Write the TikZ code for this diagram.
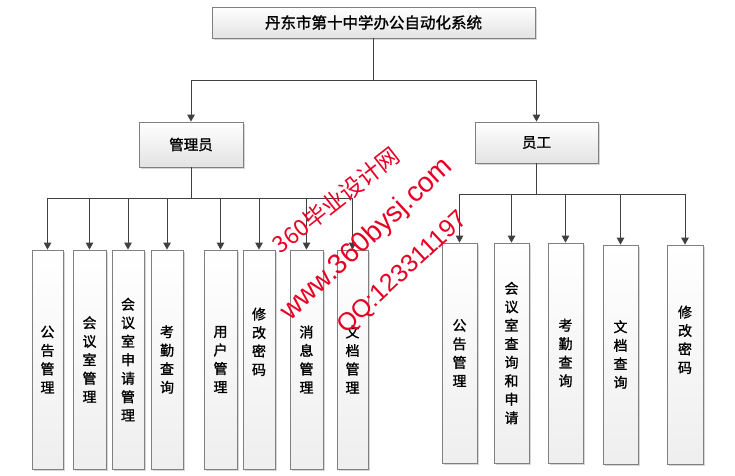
\documentclass[tikz,border=0pt]{standalone}
\usepackage{fontspec}
\newfontfamily\cjk[FakeBold=1.3]{Noto Sans CJK SC}
\newfontfamily\cjkw{Noto Sans CJK SC}
\newfontfamily\wmfont{Liberation Sans}
\usetikzlibrary{arrows.meta,shadows}
\definecolor{edge}{RGB}{128,128,128}
\definecolor{wire}{RGB}{64,64,64}
\definecolor{wmred}{RGB}{232,0,36}
\begin{document}
\begin{tikzpicture}[x=1pt,y=-1pt,
  boxbase/.style={draw=edge, line width=0.8pt, inner sep=0pt,
    drop shadow={shadow xshift=1.5pt, shadow yshift=-1.5pt, fill=gray!45, opacity=0.7}},
  headbox/.style={boxbase, top color=white, bottom color=gray!22,
    font=\cjk\fontsize{14.5}{16}\selectfont},
  leafbox/.style={boxbase, top color=white, bottom color=gray!13, minimum width=32pt,
    align=center, font=\cjk\fontsize{14}{18.5}\selectfont},
  conn/.style={draw=wire, line width=1pt},
  arr/.style={conn, -{Triangle[width=7.5pt,length=7pt]}},
  wm/.style={text=wmred, inner sep=0pt}
]
\useasboundingbox (0,0) rectangle (735,475);

% top
\node[headbox, minimum width=323pt, minimum height=31pt, font=\cjk\fontsize{15.5}{17}\selectfont] (root) at (373.5,22.5) {丹东市第十中学办公自动化系统};
\node[headbox, minimum width=104pt, minimum height=45pt] (adm) at (191,144.5) {管理员};
\node[headbox, minimum width=123pt, minimum height=41pt] (emp) at (536.5,142.5) {员工};

% admin leaves (top 250, bottom 469)
\node[leafbox, minimum width=31pt, minimum height=219pt] (a1) at (47.5,359.5) {公\\告\\管\\理};
\node[leafbox, minimum width=33pt, minimum height=219pt] (a2) at (89.5,359.5) {会\\议\\室\\管\\理};
\node[leafbox, minimum width=32pt, minimum height=219pt] (a3) at (128,359.5) {会\\议\\室\\申\\请\\管\\理};
\node[leafbox, minimum width=32pt, minimum height=219pt] (a4) at (167,359.5) {考\\勤\\查\\询};
\node[leafbox, minimum width=33pt, minimum height=219pt] (a5) at (220.5,359.5) {用\\户\\管\\理};
\node[leafbox, minimum width=32pt, minimum height=219pt] (a6) at (259,359.5) {修\\改\\密\\码\\[18pt]};
\node[leafbox, minimum width=33pt, minimum height=219pt] (a7) at (306.5,359.5) {消\\息\\管\\理};
\node[leafbox, minimum width=31pt, minimum height=219pt] (a8) at (352.5,359.5) {文\\档\\管\\理};

% employee leaves
\node[leafbox, minimum width=35pt, minimum height=220pt] (e1) at (459.5,353) {公\\告\\管\\理};
\node[leafbox, minimum width=35pt, minimum height=220pt] (e2) at (511.5,353) {会\\议\\室\\查\\询\\和\\申\\请};
\node[leafbox, minimum width=35pt, minimum height=220pt] (e3) at (565.5,353) {考\\勤\\查\\询};
\node[leafbox, minimum width=35pt, minimum height=219pt] (e4) at (620.5,354.5) {文\\档\\查\\询};
\node[leafbox, minimum width=36pt, minimum height=219pt] (e5) at (685,354.5) {修\\改\\密\\码\\[12pt]};

% connectors
\coordinate (rbus) at (373.5,80);
\coordinate (abus) at (191,198);
\coordinate (ebus) at (536.5,194);
\draw[conn] (root.south) -- (rbus);
\draw[arr] (rbus) -| (adm.north);
\draw[arr] (rbus) -| (emp.north);
\draw[conn] (adm.south) -- (abus);
\foreach \n in {a1,a2,a3,a4,a5,a6,a7,a8} \draw[arr] (abus) -| (\n.north);
\draw[conn] (emp.south) -- (ebus);
\foreach \n in {e1,e2,e3,e4,e5} \draw[arr] (ebus) -| (\n.north);

% watermark
\node[wm, rotate=38, font=\cjkw\fontsize{23}{25}\selectfont] (w1) at (336,200) {\textit{360}毕业设计网};
\node[wm, rotate=43, font=\wmfont\fontsize{28}{30}\selectfont] (w2) at (367,240) {www.360bysj.com};
\node[wm, rotate=43, font=\wmfont\fontsize{25}{27}\selectfont] (w3) at (403,273) {QQ:123311197};
\end{tikzpicture}
\end{document}
